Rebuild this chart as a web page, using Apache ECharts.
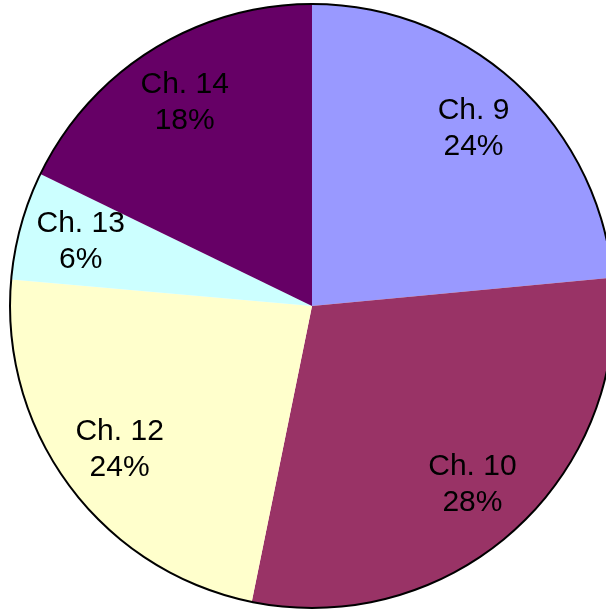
<!DOCTYPE html>
<html>
<head>
<meta charset="utf-8">
<script src="https://cdn.jsdelivr.net/npm/echarts@6/dist/echarts.min.js"></script>
<style>html,body{margin:0;padding:0;background:#fff;}#c{width:606px;height:609px;}</style>
</head>
<body>
<div id="c"></div>
<script>
const categories = ['Ch. 9', 'Ch. 10', 'Ch. 12', 'Ch. 13', 'Ch. 14'];
const values = [23.5, 29.7, 23.2, 5.8, 17.8];
const labelPercents = ['24%', '28%', '24%', '6%', '18%'];
const colors = ['#9999FF', '#993366', '#FFFFCC', '#CCFFFF', '#660066'];

const chart = echarts.init(document.getElementById('c'), null, {renderer: 'canvas'});
const center = [312, 306];
const R = 302;
chart.setOption({
  backgroundColor: '#ffffff',
  animation: false,
  series: [
    {
      type: 'pie',
      center: center,
      radius: [0, R],
      startAngle: 90,
      clockwise: true,
      silent: true,
      label: {show: false},
      labelLine: {show: false},
      itemStyle: {borderWidth: 0},
      data: categories.map((c, i) => ({name: c, value: values[i], itemStyle: {color: colors[i]}}))
    },
    {
      type: 'pie',
      center: center,
      radius: [R - 1, R + 1],
      startAngle: 90,
      silent: true,
      label: {show: false},
      labelLine: {show: false},
      itemStyle: {color: '#000'},
      data: [{value: 1, name: 'border'}]
    },
    {
      type: 'pie',
      center: center,
      radius: [172, R],
      startAngle: 90,
      clockwise: true,
      silent: true,
      itemStyle: {color: 'rgba(0,0,0,0)'},
      label: {
        show: true,
        position: 'inside',
        color: '#000',
        fontFamily: 'Liberation Sans, Arial, sans-serif',
        fontSize: 30,
        lineHeight: 36,
        formatter: p => categories[p.dataIndex] + '\n' + labelPercents[p.dataIndex]
      },
      labelLine: {show: false},
      data: categories.map((c, i) => ({name: c, value: values[i]}))
    }
  ]
});
</script>
</body>
</html>
